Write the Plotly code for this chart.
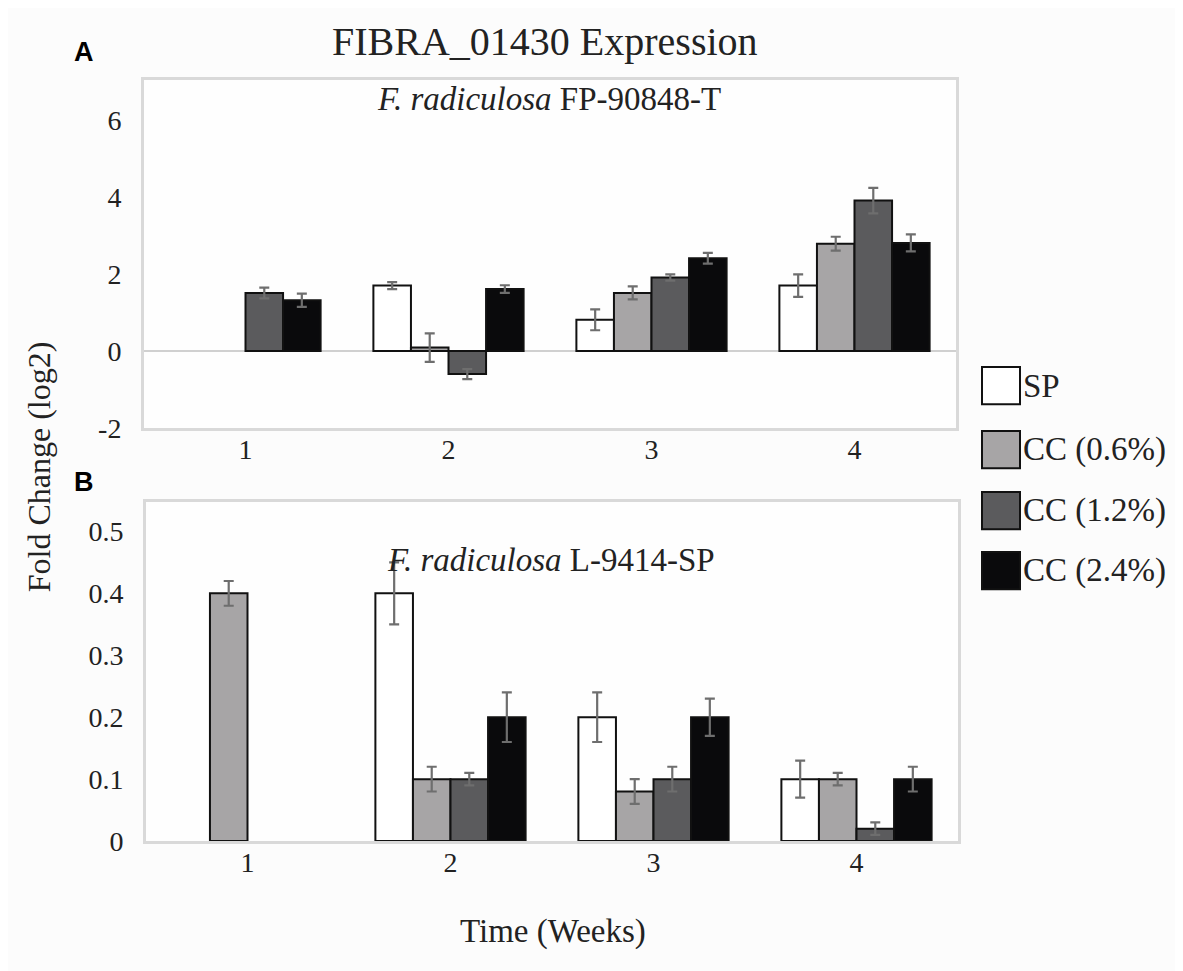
import plotly.graph_objects as go

weeks = ['1', '2', '3', '4']
groups = ['SP', 'CC (0.6%)', 'CC (1.2%)', 'CC (2.4%)']
colors = ['#ffffff', '#a7a5a6', '#5b5b5d', '#0a0a0c']

# panel A - F. radiculosa FP-90848-T (log2 fold change)
a_sp = [None, 1.70, 0.81, 1.70]
a_sp_err = [0, 0.09, 0.27, 0.29]
a_cc06 = [None, 0.09, 1.51, 2.79]
a_cc06_err = [0, 0.37, 0.17, 0.18]
a_cc12 = [1.51, -0.60, 1.91, 3.91]
a_cc12_err = [0.14, 0.13, 0.08, 0.33]
a_cc24 = [1.32, 1.61, 2.41, 2.81]
a_cc24_err = [0.17, 0.10, 0.14, 0.22]

# panel B - F. radiculosa L-9414-SP
b_sp = [None, 0.40, 0.20, 0.10]
b_sp_err = [0, 0.05, 0.04, 0.03]
b_cc06 = [0.40, 0.10, 0.08, 0.10]
b_cc06_err = [0.02, 0.02, 0.02, 0.01]
b_cc12 = [None, 0.10, 0.10, 0.02]
b_cc12_err = [0, 0.01, 0.02, 0.01]
b_cc24 = [None, 0.20, 0.20, 0.10]
b_cc24_err = [0, 0.04, 0.03, 0.02]

a_ticks = [-2, 0, 2, 4, 6]
b_ticks = [0, 0.1, 0.2, 0.3, 0.4, 0.5]

panel_a = [(a_sp, a_sp_err), (a_cc06, a_cc06_err), (a_cc12, a_cc12_err), (a_cc24, a_cc24_err)]
panel_b = [(b_sp, b_sp_err), (b_cc06, b_cc06_err), (b_cc12, b_cc12_err), (b_cc24, b_cc24_err)]

W, H = 1183, 971
serif = 'Liberation Serif, Times New Roman, serif'
grey_line = '#d9d9d9'

fig = go.Figure()

for (xa, ya), panel in [(('x', 'y'), panel_a), (('x2', 'y2'), panel_b)]:
    for name, col, (vals, errs) in zip(groups, colors, panel):
        fig.add_trace(go.Bar(
            x=weeks, y=vals, name=name, xaxis=xa, yaxis=ya,
            marker=dict(color=col, line=dict(color='#111111', width=2)),
            error_y=dict(type='data', array=errs, color='#6e6e6e', thickness=2.2, width=5),
            showlegend=False, offsetgroup=name,
        ))

def px_x(p):
    return p / W

def px_y(p):
    return 1 - p / H

axis_common = dict(
    type='category', showgrid=False, showline=True, mirror=True,
    linecolor=grey_line, linewidth=3, ticks='', ticklabelstandoff=-6,
    tickfont=dict(family=serif, size=28, color='#222'),
)
yaxis_common = dict(
    showgrid=False, showline=True, mirror=True, linecolor=grey_line, linewidth=3,
    ticks='outside', ticklen=14, tickcolor='rgba(0,0,0,0)',
    tickfont=dict(family=serif, size=28, color='#222'),
)

fig.update_layout(
    width=W, height=H,
    margin=dict(l=0, r=0, t=0, b=0),
    paper_bgcolor='#fcfcfc', plot_bgcolor='#fefefe',
    barmode='group', bargap=0.26, bargroupgap=0,
    xaxis=dict(axis_common, domain=[px_x(136), px_x(948)], anchor='y', range=[-0.5, 3.5]),
    yaxis=dict(yaxis_common, domain=[px_y(427), px_y(73)], anchor='x', range=[-2, 7.05],
               tickvals=a_ticks, ticktext=[str(t) for t in a_ticks],
               zeroline=True, zerolinecolor='#d0d0d0', zerolinewidth=2),
    xaxis2=dict(axis_common, domain=[px_x(138), px_x(950)], anchor='y2', range=[-0.5, 3.5]),
    yaxis2=dict(yaxis_common, domain=[px_y(847), px_y(502)], anchor='x2', range=[0, 0.548],
                tickvals=b_ticks, ticktext=['0' if t == 0 else str(t) for t in b_ticks],
                zeroline=False),
    font=dict(family=serif, color='#222'),
)

ann = [
    dict(text='FIBRA_01430 Expression', x=px_x(537), y=px_y(34), font=dict(size=40)),
    dict(text='<i>F. radiculosa</i> FP-90848-T', x=px_x(541), y=px_y(93), font=dict(size=33)),
    dict(text='<i>F. radiculosa</i> L-9414-SP', x=px_x(543), y=px_y(561), font=dict(size=33)),
    dict(text='Time (Weeks)', x=px_x(545), y=px_y(939), font=dict(size=33)),
    dict(text='Fold Change (log2)', x=px_x(31), y=px_y(467), textangle=-90, font=dict(size=32)),
    dict(text='<b>A</b>', x=px_x(76), y=px_y(45), font=dict(family='Liberation Sans, Arial', size=27, color='#000')),
    dict(text='<b>B</b>', x=px_x(76), y=px_y(482), font=dict(family='Liberation Sans, Arial', size=27, color='#000')),
]
for a in ann:
    a.update(xref='paper', yref='paper', showarrow=False, xanchor='center', yanchor='middle')
    fig.add_annotation(**a)

# legend drawn by hand so the swatches can be large like the original
leg_y = [384, 449, 511, 572]
for name, col, cy in zip(groups, colors, leg_y):
    fig.add_shape(type='rect', xref='paper', yref='paper',
                  x0=px_x(974), x1=px_x(1012), y0=px_y(cy + 19), y1=px_y(cy - 19),
                  fillcolor=col, line=dict(color='#111111', width=2))
    fig.add_annotation(text=name, xref='paper', yref='paper', x=px_x(1013), y=px_y(cy),
                       xanchor='left', yanchor='middle', showarrow=False,
                       font=dict(family=serif, size=33, color='#222'))

fig.write_html('out.html')
